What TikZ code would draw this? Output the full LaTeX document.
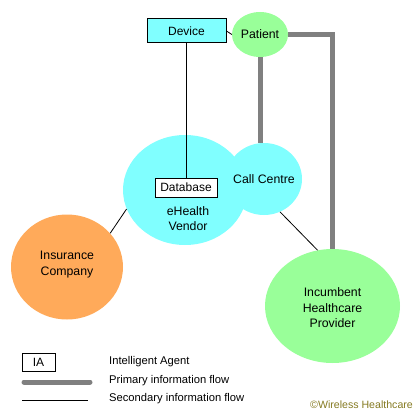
\documentclass[tikz,border=0pt]{standalone}
\usepackage{fontspec}
\setmainfont{Liberation Sans}
\usetikzlibrary{shapes.geometric}
\definecolor{cyanfill}{HTML}{80FFFF}
\definecolor{greenfill}{HTML}{99FF99}
\definecolor{orangefill}{HTML}{FFAA5A}
\definecolor{flowgray}{HTML}{808080}
\definecolor{copyolive}{HTML}{857A22}
\tikzset{
  blob/.style={ellipse, inner sep=0pt, align=center, font=\fontsize{12.3}{15.5}\selectfont},
  agent/.style={draw=black, line width=1pt, inner sep=0pt, font=\fontsize{12}{13}\selectfont},
  primary/.style={draw=flowgray, line width=5pt},
  secondary/.style={draw=black, line width=0.8pt},
  lbl/.style={anchor=west, inner sep=0pt, font=\fontsize{11.2}{12}\selectfont}
}
\begin{document}
\begin{tikzpicture}[x=1pt,y=-1pt]
\useasboundingbox (0,0) rectangle (420,420);
% ellipses
\node[blob, fill=cyanfill, minimum width=124, minimum height=110] (vendor) at (185,190) {};
\node[blob, fill=cyanfill, minimum width=76, minimum height=72] (call) at (264,179) {};
\node[blob, fill=greenfill, minimum width=56, minimum height=45] (patient) at (260,34.5) {};
\node[blob, fill=orangefill, minimum width=112, minimum height=105] (ins) at (67,267) {};
\node[blob, fill=greenfill, minimum width=135, minimum height=114] (inc) at (332.5,306) {};
% texts
\node[blob] at (patient) {Patient};
\node[blob] at (call.center) {Call Centre};
\node[blob] at (188,218.5) {eHealth\\Vendor};
\node[blob] at (67,264.5) {Insurance\\Company};
\node[blob] at (332.5,308) {Incumbent\\Healthcare\\Provider};
% agents
\node[agent, fill=cyanfill, minimum width=79, minimum height=24] (device) at (186.5,31) {Device};
\node[agent, fill=white, minimum width=62, minimum height=19] (db) at (186,187.5) {Database};
% primary flows
\draw[primary] (patient.east) -| (inc.north);
\draw[primary] (patient.south) -- (patient.south |- call.north);
% secondary flows
\draw[secondary] (device.east) -- (patient.west);
\draw[secondary] (device.south) -- (device.south |- db.north);
\draw[secondary] (ins.38) -- (vendor.198);
\draw[secondary] (call.-64) -- (inc.105);
% legend
\node[agent, minimum width=33, minimum height=18] (ia) at (38.5,362) {IA};
\coordinate (p1) at (24,382);
\coordinate (p2) at (90,382);
\draw[primary, line cap=round] (p1) -- (p2);
\coordinate (s1) at (22,400);
\coordinate (s2) at (88,400);
\draw[secondary] (s1) -- (s2);
\node[lbl] (l1) at (109,362) {Intelligent Agent};
\node[lbl] (l2) at (109,381) {Primary information flow};
\node[lbl] (l3) at (109,399) {Secondary information flow};
\node[lbl, text=copyolive, font=\fontsize{10.6}{12}\selectfont] (copy) at (310,405) {©Wireless Healthcare};
\end{tikzpicture}
\end{document}
